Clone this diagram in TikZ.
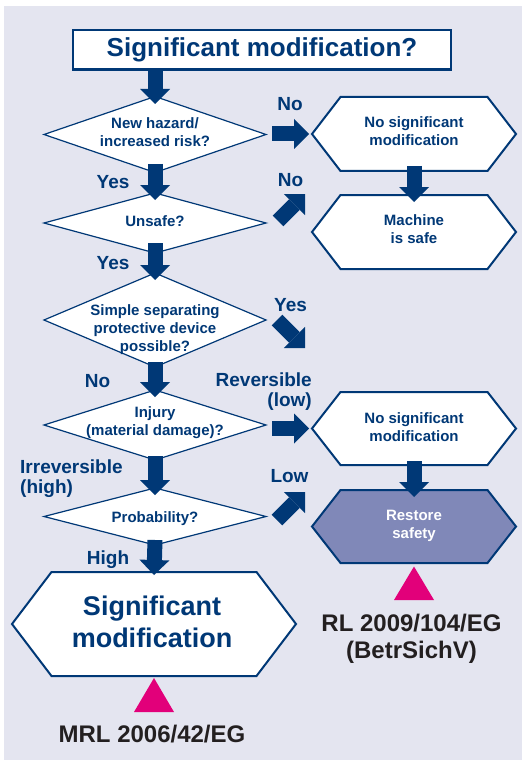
\documentclass[tikz,border=0pt]{standalone}
\usepackage{fontspec}
\setmainfont{Liberation Sans}
\usetikzlibrary{arrows.meta,calc}

\definecolor{navy}{HTML}{003876}
\definecolor{panel}{HTML}{E4E5F0}
\definecolor{restorefill}{HTML}{8088B8}
\definecolor{marker}{HTML}{E2007A}
\definecolor{inkblack}{HTML}{231F20}

\pgfdeclarelayer{panel}
\pgfdeclarelayer{outline}
\pgfsetlayers{panel,outline,main}

% hexagon drawn over the rectangle of a frame node: #1 style, #2 node, #3 slant of the side corners
\newcommand{\hexoutline}[3]{%
  \draw[#1] (#2.west) -- ($(#2.north west)+(#3,0)$) -- ($(#2.north east)+(-#3,0)$)
    -- (#2.east) -- ($(#2.south east)+(-#3,0)$) -- ($(#2.south west)+(#3,0)$) -- cycle;}
% decision diamond drawn over the rectangle of a frame node
\newcommand{\diamondoutline}[1]{%
  \draw[diamondline] (#1.west) -- (#1.north) -- (#1.east) -- (#1.south) -- cycle;}

\tikzset{
  frame/.style={inner sep=0pt, outer sep=0pt},
  diamondline/.style={draw=navy, line width=1.2pt, fill=white},
  hexline/.style={draw=navy, line width=2pt, fill=white},
  hexdark/.style={draw=navy, line width=2pt, fill=restorefill},
  small/.style={font=\fontsize{15}{18}\selectfont\bfseries, text=navy, align=center, inner sep=0pt, anchor=base},
  answer/.style={font=\fontsize{19}{20}\selectfont\bfseries, text=navy, inner sep=0pt, anchor=base},
  reftext/.style={font=\fontsize{24}{27}\selectfont\bfseries, text=inkblack, align=center, inner sep=0pt, anchor=base},
  blockarrow/.style={draw=navy, line width=15pt, -{Triangle[width=30pt,length=15pt,line width=0pt]}},
}

\begin{document}
\begin{tikzpicture}[x=1pt,y=-1pt]
\useasboundingbox (0,0) rectangle (522,762);
\begin{pgfonlayer}{panel}
  \fill[white] (0,0) rectangle (522,762);
  \fill[panel] (4,6) rectangle (522,760);
\end{pgfonlayer}

% title box
\node[frame, draw=navy, line width=2.2pt, fill=white, minimum width=378pt, minimum height=39.5pt,
  font=\fontsize{26}{30}\selectfont\bfseries, text=navy] (title) at (262,49.75) {Significant modification?};

% decision diamonds (left column)
\node[frame, minimum width=222pt, minimum height=76pt] (d1) at (155,134.5) {};
\node[frame, minimum width=222pt, minimum height=60pt] (d2) at (155,223) {};
\node[frame, minimum width=222pt, minimum height=94pt] (d3) at (155,320) {};
\node[frame, minimum width=222pt, minimum height=70pt] (d4) at (155,425) {};
\node[frame, minimum width=222pt, minimum height=57pt] (d5) at (155,516.5) {};

% result hexagons
\node[frame, minimum width=204pt, minimum height=74pt] (h1) at (414,134) {};
\node[frame, minimum width=204pt, minimum height=74pt] (h2) at (414,232) {};
\node[frame, minimum width=204pt, minimum height=73pt] (h3) at (414,428.5) {};
\node[frame, minimum width=204pt, minimum height=73pt] (h4) at (414,526.5) {};
\node[frame, minimum width=284pt, minimum height=104pt] (sig) at (154,624) {};

\begin{pgfonlayer}{outline}
  \diamondoutline{d1}
  \diamondoutline{d2}
  \diamondoutline{d3}
  \diamondoutline{d4}
  \diamondoutline{d5}
  \hexoutline{hexline}{h1}{28.5}
  \hexoutline{hexline}{h2}{28.5}
  \hexoutline{hexline}{h3}{28.5}
  \hexoutline{hexdark}{h4}{28.5}
  \hexoutline{hexline}{sig}{39.5}
  % reference markers
  \fill[marker] ($(sig.south)+(0,2)$) -- ++(20,34) -- ++(-40,0) -- cycle;
  \fill[marker] ($(h4.south)+(0,3.5)$) -- ++(20,33.5) -- ++(-40,0) -- cycle;
\end{pgfonlayer}

% texts inside the shapes (multi-line nodes sit on the baseline of their last line)
\node[small] (d1text) at (155,146.3) {New hazard/\\increased risk?};
\node[small] (d2text) at (155,226) {Unsafe?};
\node[small] (d3text) at (155,351) {Simple separating\\protective device\\possible?};
\node[small] (d4text) at (155,435) {Injury\\(material damage)?};
\node[small] (d5text) at (155,522) {Probability?};
\node[small] (h1text) at (414,145.3) {No significant\\modification};
\node[small] (h2text) at (414,243.5) {Machine\\is safe};
\node[small] (h3text) at (414,441.5) {No significant\\modification};
\node[small, text=white] (h4text) at (414,538) {Restore\\safety};
\node[font=\fontsize{27}{32}\selectfont\bfseries, text=navy, align=center, inner sep=0pt, anchor=base]
  (sigtext) at (152,647) {Significant\\modification};

% answers
\node[answer] (no1) at (290,111) {No};
\node[answer] (yes1) at (113,188) {Yes};
\node[answer] (no2) at (290.5,186) {No};
\node[answer] (yes2) at (113,269) {Yes};
\node[answer] (yes3) at (290.5,311) {Yes};
\node[answer] (no3) at (97.5,387) {No};
\node[answer, align=right, anchor=base east] (rev) at (312,406.5) {Reversible\\(low)};
\node[answer, align=left, anchor=base west] (irr) at (20,493) {Irreversible\\(high)};
\node[answer] (low) at (289.5,482) {Low};
\node[answer] (high) at (108,564) {High};

% legal references
\node[reftext] (mrl) at (152,742) {MRL 2006/42/EG};
\node[reftext] (rl) at (411.5,658) {RL 2009/104/EG\\(BetrSichV)};

% block arrows
\draw[blockarrow] (title.south -| d1.north) -- ($(d1.north)+(0,7.5)$);
\draw[blockarrow] ($(d1.south)+(0,-8.5)$) -- ($(d2.north)+(0,7)$);
\draw[blockarrow] ($(d2.south)+(0,-10)$) -- ($(d3.north)+(0,7)$);
\draw[blockarrow] ($(d3.south)+(0,-5)$) -- ($(d4.north)+(0,7)$);
\draw[blockarrow] ($(d4.south)+(0,-4)$) -- ($(d5.north)+(0,7)$);
\draw[blockarrow] ($(d5.south)+(0,-5)$) -- ($(sig.north)+(0,3)$);
\draw[blockarrow] ($(h1.south)+(0,-5)$) -- ($(h2.north)+(0,7)$);
\draw[blockarrow] ($(h3.south)+(0,-4)$) -- ($(h4.north)+(0,7)$);
\draw[blockarrow] ($(d1.east |- h1.west)+(6,0)$) -- ($(h1.west)+(-3,0)$);
\draw[blockarrow] ($(d4.east |- h3.west)+(6,0)$) -- ($(h3.west)+(-3,0)$);
\draw[blockarrow] ($(d2.east)+(12,-2)$) -- ($(d2.east)+(39,-29)$);
\draw[blockarrow] ($(d3.east)+(11,0)$) -- ($(d3.east)+(39,28)$);
\draw[blockarrow] ($(d5.east)+(11,3.5)$) -- ($(d5.east)+(39,-24.5)$);
\end{tikzpicture}
\end{document}
